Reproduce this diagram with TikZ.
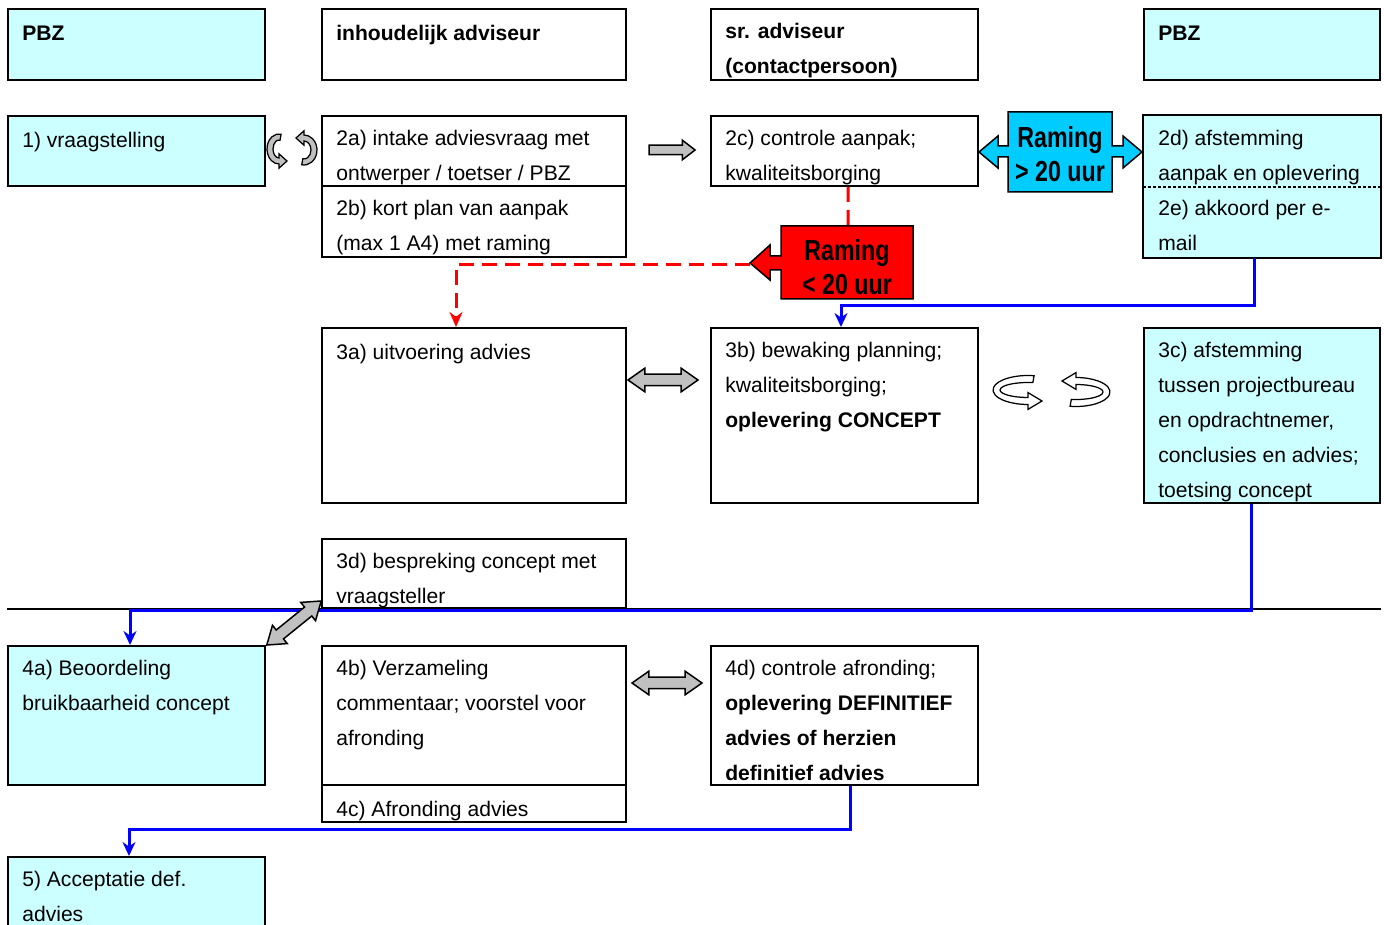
\documentclass[tikz,border=0pt]{standalone}
\usepackage{fontspec}
\setmainfont{Liberation Sans}
\usetikzlibrary{arrows.meta,shapes.arrows,fit}

\definecolor{pbzcyan}{RGB}{204,255,255}
\definecolor{ramingblue}{RGB}{0,204,255}
\definecolor{swapgray}{RGB}{192,192,192}

% looping arrow round the origin: x radius, y radius, band width, head length
\newcommand{\turnarrow}[5][]{%
  \filldraw[line width=0.025cm, #1]
    (280:#2 and #3) arc[start angle=280, end angle=90, x radius=#2, y radius=#3]
    -- (0,#3+0.7*#4) -- (#5,#3-0.5*#4) -- (0,#3-1.7*#4) -- (0,#3-#4)
    arc[start angle=90, end angle=280, x radius=#2-#4, y radius=#3-#4] -- cycle;}

\tikzset{
  gridbox/.style={draw, line width=0.04cm, inner sep=0pt},
  pbz/.style={gridbox, fill=pbzcyan},
  txt/.style={anchor=north west, inner sep=0pt, align=left,
    font=\fontsize{12}{19.9}\selectfont,
    execute at begin node={\rule{0pt}{9.5pt}}},
  head/.style={txt, font=\fontsize{12}{19.9}\selectfont\bfseries},
  raming/.style={align=center, inner sep=0pt, xscale=0.8,
    font=\fontsize{16.5}{19.3}\selectfont\bfseries},
  swap/.style={double arrow, draw, fill=swapgray, line width=0.03cm,
    inner xsep=0pt, inner ysep=0.1cm, double arrow head extend=0.12cm,
    double arrow tip angle=70, minimum height=1.4cm},
  push/.style={single arrow, draw, fill=swapgray, line width=0.03cm,
    inner xsep=0pt, inner ysep=0.08cm, single arrow head extend=0.1cm,
    single arrow tip angle=75, minimum height=0.92cm},
  flow/.style={blue, line width=0.06cm, -{Stealth[length=0.28cm, width=0.26cm]}},
  lowroute/.style={red, line width=0.06cm, dash pattern=on 0.3cm off 0.16cm}
}

\begin{document}
\begin{tikzpicture}[x=0.02cm, y=-0.02cm]
  \useasboundingbox (0,0) rectangle (1384,925);
  \clip (0,0) rectangle (1384,925);

  % column heads
  \node[pbz, fit={(8,9)(265,80)}] (h1) {};
  \node[gridbox, fit={(322,9)(626,80)}] (h2) {};
  \node[gridbox, fit={(711,9)(978,80)}] (h3) {};
  \node[pbz, fit={(1144,9)(1380,80)}] (h4) {};
  \node[head] (h1t) at ([shift={(15,15)}]h1.north west) {PBZ};
  \node[head] (h2t) at ([shift={(15,15)}]h2.north west) {inhoudelijk adviseur};
  \node[head] (h3t) at ([shift={(15,15)}]h3.north west) {sr. adviseur\\(contactpersoon)};
  \node[head] (h4t) at ([shift={(15,15)}]h4.north west) {PBZ};

  % step 1 and 2
  \node[pbz, fit={(8,116)(265,186)}] (q1) {};
  \node[gridbox, fit={(322,116)(626,186)}] (a2) {};
  \node[gridbox, fit={(322,186)(626,257)}] (b2) {};
  \node[gridbox, fit={(711,116)(978,186)}] (c2) {};
  \node[pbz, draw=none, fit={(1144,116)(1380,186)}] (d2) {};
  \node[pbz, draw=none, fit={(1144,186)(1380,257)}] (e2) {};
  \draw[line width=0.04cm] (d2.north west) rectangle (e2.south east);
  \draw[line width=0.04cm, dash pattern=on 0.06cm off 0.04cm] (d2.south west) -- (d2.south east);
  \node[txt] (q1t) at ([shift={(15,15)}]q1.north west) {1) vraagstelling};
  \node[txt] (a2t) at ([shift={(15,15)}]a2.north west) {2a) intake adviesvraag met\\ontwerper / toetser / PBZ};
  \node[txt] (b2t) at ([shift={(15,15)}]b2.north west) {2b) kort plan van aanpak\\(max 1 A4) met raming};
  \node[txt] (c2t) at ([shift={(15,15)}]c2.north west) {2c) controle aanpak;\\kwaliteitsborging};
  \node[txt] (d2t) at ([shift={(15,15)}]d2.north west) {2d) afstemming\\aanpak en oplevering};
  \node[txt] (e2t) at ([shift={(15,15)}]e2.north west) {2e) akkoord per e-\\mail};

  % step 3
  \node[gridbox, fit={(322,328)(626,503)}] (a3) {};
  \node[gridbox, fit={(711,328)(978,503)}] (b3) {};
  \node[pbz, fit={(1144,328)(1380,503)}] (c3) {};
  \node[gridbox, fit={(322,539)(626,608)}] (d3) {};
  \node[txt] (a3t) at ([shift={(15,15)}]a3.north west) {3a) uitvoering advies};
  \node[txt] (b3t) at ([shift={(15,15)}]b3.north west) {3b) bewaking planning;\\kwaliteitsborging;\\\textbf{oplevering CONCEPT}};
  \node[txt] (c3t) at ([shift={(15,15)}]c3.north west) {3c) afstemming\\tussen projectbureau\\en opdrachtnemer,\\conclusies en advies;\\toetsing concept};
  \node[txt] (d3t) at ([shift={(15,15)}]d3.north west) {3d) bespreking concept met\\vraagsteller};

  % step 4 and 5
  \node[pbz, fit={(8,646)(265,785)}] (a4) {};
  \node[gridbox, fit={(322,646)(626,785)}] (b4) {};
  \node[gridbox, fit={(322,785)(626,822)}] (c4) {};
  \node[gridbox, fit={(711,646)(978,785)}] (d4) {};
  \node[pbz, fit={(8,857)(265,940)}] (q5) {};
  \node[txt] (a4t) at ([shift={(15,15)}]a4.north west) {4a) Beoordeling\\bruikbaarheid concept};
  \node[txt] (b4t) at ([shift={(15,15)}]b4.north west) {4b) Verzameling\\commentaar; voorstel voor\\afronding};
  \node[txt] (c4t) at ([shift={(15,15)}]c4.north west) {4c) Afronding advies};
  \node[txt] (d4t) at ([shift={(15,15)}]d4.north west) {4d) controle afronding;\\\textbf{oplevering DEFINITIEF}\\\textbf{advies of herzien}\\\textbf{definitief advies}};
  \node[txt] (q5t) at ([shift={(15,15)}]q5.north west) {5) Acceptatie def.\\advies};

  % phase rule
  \draw[line width=0.04cm] (h1.west |- d3.south) -- (h4.east |- d3.south);

  % hand-overs
  \draw[flow] ([xshift=-0.16cm]e2.south) -- ++(0,48) -| ([xshift=-0.07cm]b3.north);
  \draw[flow] ([xshift=-0.22cm]c3.south) -- ++(0,107) -| ([xshift=-0.13cm]a4.north);
  \draw[flow] ([xshift=0.11cm]d4.south) -- ++(0,44) -| ([xshift=-0.15cm]q5.north);

  % small job route
  \coordinate (lotop) at (848,226);
  \coordinate (lotip) at (750,265);
  \draw[lowroute] ([xshift=0.07cm]c2.south) -- (lotop);
  \draw[lowroute, -{Stealth[length=0.3cm, width=0.26cm]}] (lotip) -| ([xshift=-0.36cm]a3.north);

  % exchange arrows
  \node[push] (p2) at (669,150) {};
  \node[swap] (s3) at (663,380) {};
  \node[swap] (s4) at (667,683) {};
  \node[swap, rotate=39] (s34) at (294,623) {};

  % loops
  \begin{scope}[shift={(279,149)}]
    \turnarrow[fill=swapgray]{12}{15}{6}{8}
  \end{scope}
  \begin{scope}[shift={(304,150)}, rotate=180]
    \turnarrow[fill=swapgray]{13}{15}{6}{8}
  \end{scope}
  \begin{scope}[shift={(1028,390)}]
    \turnarrow[fill=white]{35}{14.5}{7}{14}
  \end{scope}
  \begin{scope}[shift={(1076,392)}, rotate=180]
    \turnarrow[fill=white]{34}{14.5}{7}{14}
  \end{scope}

  % estimate callouts
  \filldraw[fill=ramingblue, line width=0.03cm]
    (1008,112) -- (1112,112) -- (1112,146) -- (1123,146) -- (1123,136) -- (1142,152)
    -- (1123,168) -- (1123,157) -- (1112,157) -- (1112,192) -- (1008,192) -- (1008,157)
    -- (998,157) -- (998,168) -- (979,152) -- (998,136) -- (998,146) -- (1008,146) -- cycle;
  \node[raming] (hi) at (1060,154) {Raming\\> 20 uur};
  \filldraw[fill=red, line width=0.03cm]
    (913,226) -- (781,226) -- (781,256) -- (770,256) -- (770,245) -- (750,263)
    -- (770,280) -- (770,270) -- (781,270) -- (781,299) -- (913,299) -- cycle;
  \node[raming] (lo) at (847,267) {Raming\\< 20 uur};
\end{tikzpicture}
\end{document}
